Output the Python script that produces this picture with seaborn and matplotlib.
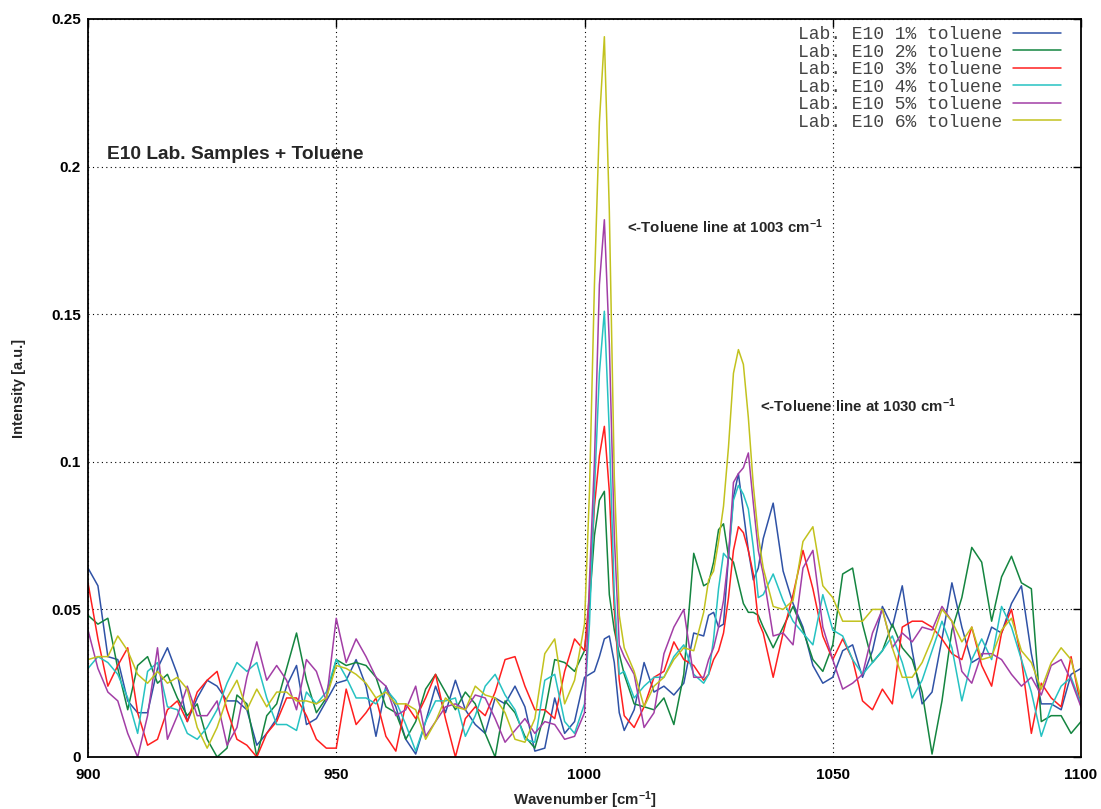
import numpy as np
import pandas as pd
import seaborn as sns
import matplotlib
matplotlib.use("Agg")
import matplotlib.pyplot as plt
from matplotlib.ticker import FixedLocator, FuncFormatter

# wavenumber grid (finer around the two toluene lines)
wavenumber = (list(range(900, 1000, 2)) + list(range(1000, 1008)) +
              list(range(1008, 1025, 2)) + list(range(1025, 1036)) +
              list(range(1036, 1101, 2)))

labels = ["Lab. E10 1% toluene", "Lab. E10 2% toluene", "Lab. E10 3% toluene",
          "Lab. E10 4% toluene", "Lab. E10 5% toluene", "Lab. E10 6% toluene"]
colors = ["#2f52a6", "#148540", "#ff1f1f", "#26c2c2", "#a23ea6", "#c2c21e"]

tol_1 = [0.064, 0.058, 0.034, 0.033, 0.019, 0.015, 0.015, 0.030, 0.037, 0.028, 0.012, 0.020, 0.026,
         0.024, 0.019, 0.019, 0.016, 0.004, 0.008, 0.013, 0.024, 0.031, 0.011, 0.013, 0.019, 0.025,
         0.026, 0.033, 0.024, 0.007, 0.024, 0.017, 0.006, 0.001, 0.012, 0.024, 0.015, 0.026, 0.016,
         0.011, 0.008, 0.020, 0.018, 0.024, 0.017, 0.002, 0.003, 0.020, 0.008, 0.012,
         0.027, 0.028, 0.029, 0.034, 0.040, 0.041, 0.032, 0.015,
         0.009, 0.016, 0.032, 0.022, 0.024, 0.021, 0.025, 0.042, 0.041,
         0.048, 0.049, 0.044, 0.045, 0.068, 0.088, 0.096, 0.083, 0.070, 0.060, 0.064,
         0.074, 0.086, 0.063, 0.052, 0.044, 0.031, 0.025, 0.027, 0.036, 0.038, 0.027, 0.036, 0.051,
         0.044, 0.058, 0.036, 0.018, 0.022, 0.040, 0.059, 0.044, 0.032, 0.034, 0.044, 0.042, 0.052,
         0.058, 0.035, 0.018, 0.018, 0.016, 0.028, 0.030]

tol_2 = [0.048, 0.045, 0.047, 0.030, 0.016, 0.031, 0.034, 0.025, 0.028, 0.020, 0.014, 0.018, 0.006,
         0.000, 0.003, 0.021, 0.018, 0.000, 0.014, 0.018, 0.030, 0.042, 0.026, 0.015, 0.020, 0.033,
         0.031, 0.032, 0.031, 0.027, 0.017, 0.015, 0.006, 0.012, 0.023, 0.028, 0.022, 0.016, 0.022,
         0.018, 0.008, 0.000, 0.019, 0.015, 0.007, 0.003, 0.015, 0.033, 0.032, 0.029,
         0.036, 0.052, 0.075, 0.087, 0.090, 0.055, 0.043, 0.035,
         0.028, 0.018, 0.017, 0.016, 0.020, 0.011, 0.028, 0.069, 0.058,
         0.059, 0.066, 0.077, 0.079, 0.068, 0.066, 0.059, 0.052, 0.049, 0.049, 0.048,
         0.044, 0.037, 0.044, 0.051, 0.043, 0.033, 0.029, 0.038, 0.062, 0.064, 0.045, 0.032, 0.036,
         0.045, 0.037, 0.033, 0.022, 0.001, 0.019, 0.043, 0.054, 0.071, 0.066, 0.046, 0.061, 0.068,
         0.059, 0.057, 0.012, 0.014, 0.014, 0.008, 0.012]

tol_3 = [0.059, 0.040, 0.024, 0.031, 0.037, 0.015, 0.004, 0.006, 0.016, 0.019, 0.012, 0.022, 0.026,
         0.029, 0.016, 0.006, 0.004, 0.000, 0.008, 0.012, 0.020, 0.020, 0.014, 0.006, 0.003, 0.003,
         0.023, 0.011, 0.015, 0.020, 0.007, 0.002, 0.018, 0.013, 0.020, 0.028, 0.013, 0.000, 0.013,
         0.017, 0.014, 0.022, 0.033, 0.034, 0.024, 0.016, 0.016, 0.013, 0.029, 0.040,
         0.036, 0.055, 0.085, 0.102, 0.112, 0.090, 0.050, 0.026,
         0.014, 0.010, 0.017, 0.027, 0.029, 0.039, 0.033, 0.031, 0.026,
         0.028, 0.033, 0.036, 0.042, 0.054, 0.070, 0.078, 0.076, 0.070, 0.062, 0.046,
         0.042, 0.027, 0.042, 0.055, 0.070, 0.057, 0.041, 0.033, 0.040, 0.033, 0.019, 0.016, 0.023,
         0.018, 0.044, 0.046, 0.046, 0.044, 0.040, 0.035, 0.033, 0.044, 0.031, 0.024, 0.042, 0.050,
         0.033, 0.008, 0.025, 0.020, 0.017, 0.034, 0.017]

tol_4 = [0.030, 0.034, 0.032, 0.028, 0.020, 0.008, 0.029, 0.032, 0.017, 0.016, 0.008, 0.006, 0.010,
         0.016, 0.025, 0.032, 0.029, 0.032, 0.020, 0.011, 0.011, 0.009, 0.022, 0.018, 0.022, 0.033,
         0.027, 0.020, 0.020, 0.018, 0.023, 0.019, 0.011, 0.002, 0.012, 0.019, 0.019, 0.020, 0.007,
         0.014, 0.024, 0.028, 0.021, 0.016, 0.006, 0.005, 0.026, 0.028, 0.012, 0.008,
         0.018, 0.045, 0.090, 0.130, 0.151, 0.110, 0.055, 0.028,
         0.029, 0.020, 0.024, 0.027, 0.027, 0.034, 0.038, 0.028, 0.025,
         0.028, 0.040, 0.057, 0.069, 0.067, 0.087, 0.092, 0.089, 0.084, 0.071, 0.054,
         0.055, 0.062, 0.053, 0.046, 0.042, 0.038, 0.055, 0.043, 0.041, 0.033, 0.028, 0.032, 0.036,
         0.041, 0.032, 0.020, 0.026, 0.036, 0.046, 0.037, 0.019, 0.033, 0.040, 0.033, 0.051, 0.044,
         0.033, 0.022, 0.007, 0.017, 0.024, 0.027, 0.018]

tol_5 = [0.043, 0.030, 0.022, 0.019, 0.008, 0.000, 0.014, 0.037, 0.006, 0.014, 0.024, 0.014, 0.014,
         0.019, 0.004, 0.010, 0.027, 0.039, 0.026, 0.031, 0.026, 0.016, 0.033, 0.029, 0.019, 0.047,
         0.032, 0.040, 0.034, 0.027, 0.024, 0.014, 0.016, 0.024, 0.007, 0.012, 0.017, 0.018, 0.016,
         0.021, 0.020, 0.013, 0.005, 0.009, 0.013, 0.008, 0.012, 0.011, 0.006, 0.007,
         0.015, 0.060, 0.100, 0.160, 0.182, 0.140, 0.075, 0.038,
         0.034, 0.028, 0.010, 0.015, 0.035, 0.044, 0.050, 0.027, 0.027,
         0.033, 0.037, 0.044, 0.053, 0.068, 0.093, 0.096, 0.098, 0.103, 0.086, 0.070,
         0.062, 0.041, 0.042, 0.038, 0.064, 0.070, 0.044, 0.033, 0.023, 0.025, 0.028, 0.042, 0.050,
         0.037, 0.042, 0.039, 0.044, 0.043, 0.051, 0.046, 0.029, 0.025, 0.035, 0.035, 0.033, 0.028,
         0.024, 0.027, 0.021, 0.031, 0.033, 0.026, 0.017]

tol_6 = [0.033, 0.034, 0.034, 0.041, 0.036, 0.028, 0.025, 0.029, 0.025, 0.027, 0.023, 0.010, 0.003,
         0.010, 0.020, 0.026, 0.016, 0.023, 0.017, 0.022, 0.022, 0.019, 0.019, 0.018, 0.020, 0.031,
         0.030, 0.028, 0.025, 0.020, 0.022, 0.018, 0.018, 0.016, 0.006, 0.012, 0.020, 0.017, 0.016,
         0.024, 0.021, 0.020, 0.015, 0.006, 0.005, 0.013, 0.035, 0.040, 0.018, 0.026,
         0.045, 0.090, 0.160, 0.215, 0.244, 0.185, 0.095, 0.048,
         0.037, 0.029, 0.017, 0.024, 0.027, 0.033, 0.037, 0.036, 0.049,
         0.060, 0.063, 0.073, 0.085, 0.105, 0.130, 0.138, 0.133, 0.115, 0.092, 0.075,
         0.064, 0.051, 0.050, 0.053, 0.073, 0.078, 0.058, 0.054, 0.046, 0.046, 0.046, 0.050, 0.050,
         0.037, 0.027, 0.027, 0.032, 0.040, 0.050, 0.046, 0.039, 0.044, 0.033, 0.034, 0.043, 0.047,
         0.036, 0.032, 0.023, 0.032, 0.037, 0.033, 0.020]

sns.set_theme(style="white")
plt.rcParams["font.family"] = ["Liberation Sans", "DejaVu Sans"]
plt.rcParams["mathtext.fontset"] = "custom"
plt.rcParams["mathtext.rm"] = "Liberation Sans:bold"
plt.rcParams["mathtext.default"] = "rm"

wide_df = pd.DataFrame({"wavenumber": wavenumber})
for lab, vals in zip(labels, [tol_1, tol_2, tol_3, tol_4, tol_5, tol_6]):
    wide_df[lab] = vals
long_df = wide_df.melt(id_vars="wavenumber", var_name="sample", value_name="intensity")

fig = plt.figure(figsize=(11.01, 8.09), dpi=100)
ax = fig.add_axes([88 / 1101, 1 - 757 / 809, (1081 - 88) / 1101, (757 - 19) / 809])

sns.lineplot(data=long_df, x="wavenumber", y="intensity", hue="sample",
             palette=colors, linewidth=1.1, ax=ax, sort=False)

ax.set_xlim(900, 1100)
ax.set_ylim(0, 0.25)
ax.xaxis.set_major_locator(FixedLocator([900, 950, 1000, 1050, 1100]))
ax.yaxis.set_major_locator(FixedLocator([0, 0.05, 0.1, 0.15, 0.2, 0.25]))
ax.yaxis.set_major_formatter(FuncFormatter(lambda v, p: f"{v:g}"))
ax.tick_params(direction="in", length=6, width=1, top=True, right=True,
               labelsize=11, color="black", labelcolor="black")
ax.tick_params(axis="y", pad=5)
ax.tick_params(axis="x", pad=8)
for lbl in ax.get_xticklabels() + ax.get_yticklabels():
    lbl.set_fontweight("bold")
ax.grid(True, color="black", linestyle=(0, (1, 3)), linewidth=0.8)
for sp in ax.spines.values():
    sp.set_color("black")
    sp.set_linewidth(1.3)

ax.set_xlabel("Wavenumber [cm$^{-1}$]", fontsize=10.8, fontweight="bold", labelpad=5)
ax.set_ylabel("Intensity [a.u.]", fontsize=10.5, fontweight="bold", labelpad=18)

ax.text(903.8, 0.204, "E10 Lab. Samples + Toluene", fontsize=13.8, fontweight="bold",
        va="center", ha="left")
ax.text(1008.6, 0.1795, "<-Toluene line at 1003 cm$^{-1}$", fontsize=10.8, fontweight="bold",
        va="center", ha="left")
ax.text(1035.3, 0.119, "<-Toluene line at 1030 cm$^{-1}$", fontsize=10.8, fontweight="bold",
        va="center", ha="left")

handles, leg_labels = ax.get_legend_handles_labels()
ax.legend(handles, leg_labels, loc="upper right", bbox_to_anchor=(0.994, 1.01),
          frameon=False, markerfirst=False, handlelength=2.65, handletextpad=0.6,
          labelspacing=0.03, borderpad=0.3,
          prop={"family": "Liberation Mono", "size": 13}, labelcolor="#444444")

fig.savefig("out.png", dpi=100)
